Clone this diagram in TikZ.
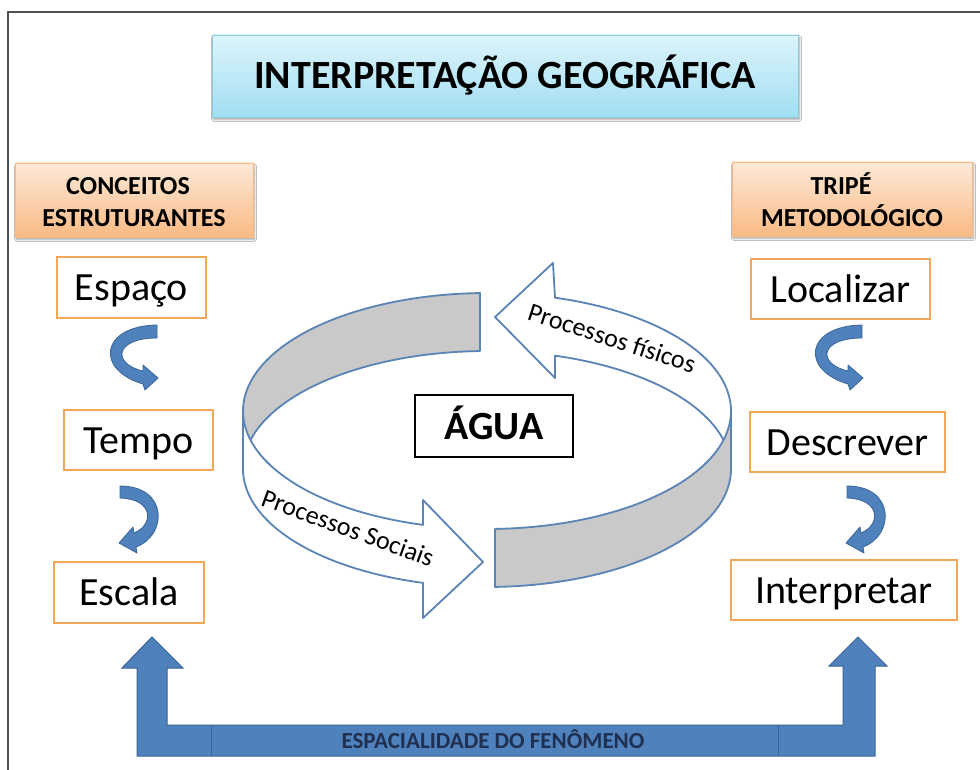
\documentclass[tikz,border=0pt]{standalone}
\usepackage{fontspec}
\setmainfont{Carlito}
\usetikzlibrary{shadows.blur}
\definecolor{boxorange}{HTML}{F2A65A}
\definecolor{hdtop}{HTML}{FDE9D8}
\definecolor{hdbot}{HTML}{F9BA84}
\definecolor{tttop}{HTML}{DDF4FB}
\definecolor{ttbot}{HTML}{A0DEF3}
\definecolor{ttline}{HTML}{8FC9DC}
\definecolor{arrblue}{HTML}{4F81BD}
\definecolor{arrline}{HTML}{3A6496}
\definecolor{cycline}{HTML}{5A83B6}
\definecolor{cycgray}{HTML}{C9C9C9}
\definecolor{navytext}{HTML}{1F3050}
\definecolor{framec}{HTML}{505050}
\begin{document}
\begin{tikzpicture}[x=1pt,y=-1pt,
  cbox/.style={draw=boxorange, line width=2.2pt, fill=white, inner sep=0pt,
    text height=26pt, text depth=0pt, font=\fontsize{40}{48}\selectfont},
  hbox/.style={top color=hdtop, bottom color=hdbot, draw=hdbot, line width=0.4pt,
    inner sep=0pt,
    blur shadow={shadow xshift=1.5pt, shadow yshift=-2.5pt, shadow blur steps=6, shadow opacity=35}},
  htext/.style={font=\bfseries\fontsize{26}{31}\selectfont, anchor=base, inner sep=0pt},
  tbox/.style={top color=tttop, bottom color=ttbot, draw=ttline, line width=0.6pt,
    inner sep=0pt, text height=26pt, text depth=0pt,
    font=\bfseries\fontsize{40}{48}\selectfont,
    blur shadow={shadow xshift=1.5pt, shadow yshift=-2.5pt, shadow blur steps=6, shadow opacity=35}},
  smarrow/.style={fill=arrblue, draw=arrline, line width=0.8pt, line join=round},
  bigarrow/.style={fill=arrblue, draw=arrline, line width=1pt, line join=miter},
  cyc/.style={draw=cycline, line width=1.8pt, line join=round},
  lbl/.style={font=\fontsize{26}{30}\selectfont, inner sep=0pt}
]
\useasboundingbox (0,0) rectangle (980,770);
\fill[white] (0,0) rectangle (980,770);
% frame
\draw[framec, line width=1.5pt] (8,770) -- (8,12) -- (980,12);

% title
\node[tbox, minimum width=586, minimum height=82] (title) at (505,76) {INTERPRETAÇÃO GEOGRÁFICA};

% headers
\node[hbox, minimum width=238, minimum height=74] (hl) at (134,200) {};
\node[htext] (hl1) at (128,195) {CONCEITOS};
\node[htext] (hl2) at (134,227) {ESTRUTURANTES};
\node[hbox, minimum width=240, minimum height=74] (hr) at (852,199) {};
\node[htext] (hr1) at (841,195) {TRIPÉ};
\node[htext] (hr2) at (852,227) {METODOLÓGICO};

% left boxes
\node[cbox, minimum width=149, minimum height=61] (espaco) at (131.5,287.5) {Espaço};
\node[cbox, minimum width=149, minimum height=60] (tempo) at (138.5,440) {Tempo};
\node[cbox, minimum width=150, minimum height=61] (escala) at (129,592.5) {Escala};
% right boxes
\node[cbox, minimum width=179, minimum height=60] (localizar) at (840.5,289) {Localizar};
\node[cbox, minimum width=195, minimum height=60] (descrever) at (847.5,442) {Descrever};
\node[cbox, minimum width=226, minimum height=60] (interpretar) at (844,590) {Interpretar};

% small curved arrows
\filldraw[smarrow] (157,325) .. controls (100,326) and (95,370) .. (143,384)
  -- (145,390) -- (158,378) -- (143,365) -- (143,371)
  .. controls (112,364) and (114,338) .. (157,338) -- cycle;
\filldraw[smarrow] (120,486) .. controls (168,486) and (168,535) .. (136,547)
  -- (137,553) -- (119,543) -- (133,527) -- (134,533)
  .. controls (154,525) and (154,499) .. (120,498) -- cycle;
\begin{scope}[xshift=705pt]
\filldraw[smarrow] (157,325) .. controls (100,326) and (95,370) .. (143,384)
  -- (145,390) -- (158,378) -- (143,365) -- (143,371)
  .. controls (112,364) and (114,338) .. (157,338) -- cycle;
\end{scope}
\begin{scope}[xshift=727pt]
\filldraw[smarrow] (120,486) .. controls (168,486) and (168,535) .. (136,547)
  -- (137,553) -- (119,543) -- (133,527) -- (134,533)
  .. controls (154,525) and (154,499) .. (120,498) -- cycle;
\end{scope}

% cycle: back right white arrow
\filldraw[cyc, fill=white] (495,317) -- (553,263)
  -- plot[domain=73.82:0, samples=40, variable=\t] ({487+244*cos(\t)},{411-118*sin(\t)})
  -- plot[domain=0:73.82, samples=40, variable=\t] ({487+244*cos(\t)},{469-118*sin(\t)})
  -- (555,378) -- cycle;
% back left gray
\filldraw[cyc, fill=cycgray]
  plot[domain=91.64:180, samples=50, variable=\t] ({487+244*cos(\t)},{411-118*sin(\t)})
  -- plot[domain=180:91.64, samples=50, variable=\t] ({487+244*cos(\t)},{469-118*sin(\t)})
  -- cycle;
% front right gray
\filldraw[cyc, fill=cycgray]
  plot[domain=-88.12:0, samples=50, variable=\t] ({487+244*cos(\t)},{411-118*sin(\t)})
  -- plot[domain=0:-88.12, samples=50, variable=\t] ({487+244*cos(\t)},{469-118*sin(\t)})
  -- cycle;
% front left white arrow
\filldraw[cyc, fill=white]
  plot[domain=180:254.8, samples=40, variable=\t] ({487+244*cos(\t)},{411-118*sin(\t)})
  -- (423,500) -- (483,562) -- (423,618)
  -- plot[domain=254.8:180, samples=40, variable=\t] ({487+244*cos(\t)},{469-118*sin(\t)})
  -- cycle;

\node[lbl, rotate=-18] (pfis) at (612,338) {Processos físicos};
\node[lbl, rotate=-20] (psoc) at (348,528) {Processos Sociais};

% center
\node[draw=black, line width=2pt, fill=white, minimum width=158, minimum height=62,
  text height=26pt, text depth=0pt, inner sep=0pt,
  font=\bfseries\fontsize{40}{48}\selectfont] (agua) at (494,426) {ÁGUA};

% bottom arrow
\filldraw[bigarrow] (137,756) -- (137,668) -- (122,668) -- (152,637) -- (183,668)
  -- (167,668) -- (167,725) -- (843,725) -- (843,666) -- (829,666) -- (858,637)
  -- (887,666) -- (875,666) -- (875,756) -- cycle;
\draw[arrline, line width=1pt] (211,725) -- (211,756) (778,725) -- (778,756);
\node[font=\bfseries\fontsize{23}{27}\selectfont, text=navytext, anchor=base, inner sep=0pt]
  (espac) at (493,748) {ESPACIALIDADE DO FENÔMENO};
\end{tikzpicture}
\end{document}
